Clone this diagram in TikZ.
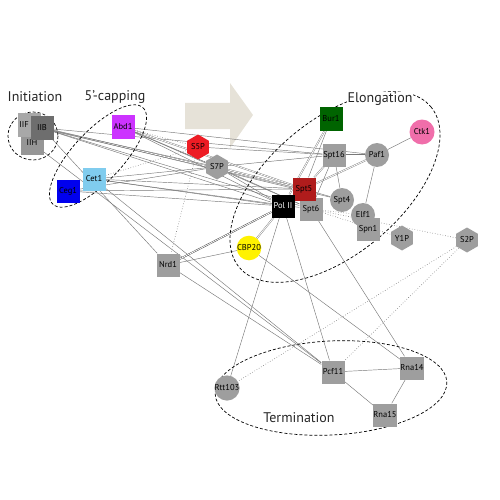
\documentclass[tikz,border=0pt]{standalone}
\usepackage{fontspec}
\setmainfont{PT Sans}
\usetikzlibrary{shapes.geometric}
\definecolor{protgray}{RGB}{158,158,158}
\definecolor{linkgray}{RGB}{120,120,120}
\definecolor{arrowbeige}{RGB}{230,226,216}
\definecolor{abdpurple}{RGB}{204,51,255}
\definecolor{cetblue}{RGB}{128,204,238}
\definecolor{cegblue}{RGB}{0,0,238}
\definecolor{burgreen}{RGB}{0,100,0}
\definecolor{ctkpink}{RGB}{240,110,170}
\definecolor{sptred}{RGB}{176,28,28}
\definecolor{sfivered}{RGB}{237,28,36}
\definecolor{cbpyellow}{RGB}{255,242,0}
\pgfdeclarelayer{backdrop}
\pgfdeclarelayer{links}
\pgfsetlayers{backdrop,links,main}
\tikzset{
  protbox/.style={rectangle, fill=protgray, minimum size=23pt, inner sep=0pt,
    font=\fontsize{8.5}{9}\selectfont},
  protcirc/.style={circle, fill=protgray, minimum size=24pt, inner sep=0pt,
    font=\fontsize{8.5}{9}\selectfont},
  phoshex/.style={regular polygon, regular polygon sides=6, shape border rotate=30,
    fill=protgray, minimum size=25pt, inner sep=0pt, font=\fontsize{8.5}{9}\selectfont},
  linkline/.style={draw=linkgray, line width=0.45pt},
  bundle/.style={draw=linkgray, line width=0.4pt, double=white, double distance=0.8pt},
  dotlink/.style={draw=linkgray, line width=0.6pt, dotted},
  groupring/.style={draw=black, line width=0.7pt, dash pattern=on 3pt off 2pt},
  grouplabel/.style={font=\fontsize{14}{16}\selectfont, text=black!85}
}
\begin{document}
\begin{tikzpicture}[x=1pt, y=-1pt]
  \useasboundingbox (0,0) rectangle (500,500);
  % background arrow and group rings
  \begin{pgfonlayer}{backdrop}
    \fill[arrowbeige] (185,103) -- (230,103) -- (230,83) -- (253,115)
      -- (230,148) -- (230,129) -- (185,129) -- cycle;
  \end{pgfonlayer}
  \draw[groupring] (33,136) ellipse [x radius=25, y radius=24];
  \draw[groupring, rotate around={47:(98,156)}] (98,156) ellipse [x radius=66, y radius=25];
  \draw[groupring, rotate around={40:(335,187)}] (335,187) ellipse [x radius=125, y radius=67];
  \draw[groupring, rotate around={3:(331,388)}] (331,388) ellipse [x radius=116, y radius=47];
  \node[grouplabel] (initlbl) at (35,97) {Initiation};
  \node[grouplabel] (caplbl) at (115,97) {5’-capping};
  \node[grouplabel, fill=white, inner sep=0.5pt] (elonglbl) at (380,99) {Elongation};
  \node[grouplabel] (termlbl) at (299,418) {Termination};
  % proteins
  \node[protbox, fill={rgb,255:red,150;green,150;blue,150}] (iih) at (32,143) {IIH};
  \node[protbox, fill={rgb,255:red,168;green,168;blue,168}, text width=19pt, align=left] (iif) at (29,125) {IIF};
  \node[protbox, fill={rgb,255:red,110;green,110;blue,110}] (iib) at (42,128) {IIB};
  \node[protbox, fill=abdpurple] (abd) at (123,127) {Abd1};
  \node[protbox, fill=cetblue] (cet) at (94,179) {Cet1};
  \node[protbox, fill=cegblue] (ceg) at (68,191) {Ceg1};
  \node[phoshex, fill=sfivered] (s5p) at (198,147) {S5P};
  \node[phoshex] (s7p) at (217,167) {S7P};
  \node[protbox, fill=burgreen] (bur) at (331,119) {Bur1};
  \node[protbox] (spt16) at (334,155) {Spt16};
  \node[protcirc] (paf) at (377,155) {Paf1};
  \node[protcirc, fill=ctkpink, minimum size=25pt] (ctk) at (422,132) {Ctk1};
  \node[protbox] (spt6) at (311,209) {Spt6};
  \node[protbox, fill=sptred] (spt5) at (304,189) {Spt5};
  \node[protbox, fill=black, text=white] (pol) at (283,206) {Pol II};
  \node[protcirc] (spt4) at (342,200) {Spt4};
  \node[protcirc] (elf) at (363,215) {Elf1};
  \node[protbox] (spn) at (368,229) {Spn1};
  \node[phoshex] (y1p) at (402,238) {Y1P};
  \node[phoshex] (s2p) at (467,240) {S2P};
  \node[protcirc, fill=cbpyellow] (cbp) at (249,248) {CBP20};
  \node[protbox] (nrd) at (168,265) {Nrd1};
  \node[protbox] (pcf) at (333,372) {Pcf11};
  \node[protbox] (rna14) at (412,368) {Rna14};
  \node[protbox] (rna15) at (385,415) {Rna15};
  \node[protcirc] (rtt) at (227,388) {Rtt103};
  % interactions
  \begin{pgfonlayer}{links}
    \draw[linkline] (iib) -- (spt16);
    \draw[bundle] (iib) -- (spt5);
    \draw[linkline] (iib) -- (pol);
    \draw[linkline] (iib) -- (spt4);
    \draw[linkline] (iib) -- (spt6);
    \draw[linkline] (iib) -- (s7p);
    \draw[linkline] (iib) -- (nrd);
    \draw[linkline] (iih) -- (pcf);
    \draw[bundle] (abd) -- (spt5);
    \draw[linkline] (abd) -- (pol);
    \draw[linkline] (abd) -- (paf);
    \draw[linkline] (abd) -- (spt6);
    \draw[linkline] (abd) -- (s7p);
    \draw[linkline] (cet) -- (spt5);
    \draw[linkline] (cet) -- (pol);
    \draw[linkline] (cet) -- (spt16);
    \draw[linkline] (cet) -- (spt6);
    \draw[linkline] (cet) -- (pcf);
    \draw[linkline] (ceg) -- (pol);
    \draw[linkline] (ceg) -- (spt5);
    \draw[linkline] (ceg) -- (s7p);
    \draw[linkline] (s5p) -- (spt16);
    \draw[bundle] (s7p) -- (spt5);
    \draw[linkline] (s7p) -- (pol);
    \draw[linkline] (s7p) -- (spt6);
    \draw[bundle, draw=black!80] (nrd) -- (pol);
    \draw[linkline] (nrd) -- (cbp);
    \draw[linkline] (nrd) -- (pcf);
    \draw[bundle] (cbp) -- (pol);
    \draw[linkline] (cbp) -- (rna14);
    \draw[linkline] (pol) -- (spt5);
    \draw[bundle] (pol) -- (bur);
    \draw[linkline] (spt5) -- (bur);
    \draw[bundle] (spt5) -- (spt16);
    \draw[bundle] (spt5) -- (paf);
    \draw[linkline] (spt5) -- (spt4);
    \draw[bundle] (spt16) -- (paf);
    \draw[linkline] (spt16) -- (spt4);
    \draw[linkline] (spt16) -- (spt6);
    \draw[linkline] (paf) -- (ctk);
    \draw[linkline] (paf) -- (elf);
    \draw[linkline] (pol) -- (rtt);
    \draw[linkline] (pol) -- (pcf);
    \draw[linkline] (spt6) -- (rna14);
    \draw[linkline] (pcf) -- (rna14);
    \draw[linkline] (pcf) -- (rna15);
    \draw[linkline] (rna14) -- (rna15);
    \draw[dotlink] (s5p) -- (nrd);
    \draw[dotlink] (cet) -- (s5p);
    \draw[dotlink] (abd) -- (s5p);
    \draw[dotlink] (abd) -- (s7p);
    \draw[dotlink] (spt6) -- (elf);
    \draw[dotlink] (spt6) -- (s2p);
    \draw[dotlink] (spt6) -- (y1p);
    \draw[dotlink] (s2p) -- (pcf);
    \draw[dotlink] (s2p) -- (rtt);
  \end{pgfonlayer}
\end{tikzpicture}
\end{document}
